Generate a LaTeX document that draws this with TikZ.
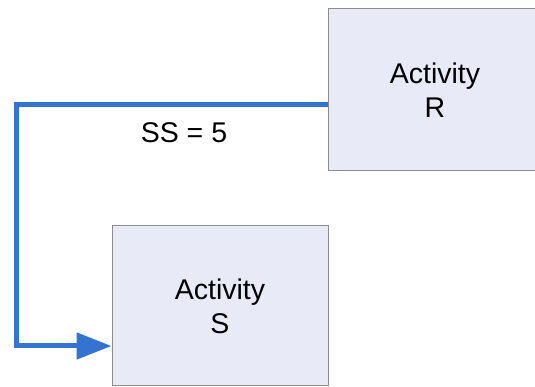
\documentclass[tikz,border=0pt]{standalone}
\usepackage{fontspec}
\setmainfont{Liberation Sans}
\usetikzlibrary{arrows.meta}
\usetikzlibrary{positioning}

\begin{document}
\begin{tikzpicture}
	[
	x=1pt, y=1pt,
	> = {Triangle[length=35pt,width=26pt]},
	activity/.style = {draw=black!45, line width=1pt, fill={rgb,255:red,232;green,235;blue,247}, align=center, font=\fontsize{28.5}{34}\selectfont, inner sep=0pt},
	link/.style = {draw={rgb,255:red,52;green,116;blue,208}, line width=5pt}
	]
	\useasboundingbox (0,0) rectangle (535,387);
	\clip (0,0) rectangle (535,387);
	\node[activity, minimum width=214pt, minimum height=162pt] (R) at (435,297) {Activity\\R};
	\node[activity, minimum width=216pt, minimum height=160pt] (S) at (220,81) {Activity\\S};
	\coordinate (bend) at (16,41);
	\draw[link, ->] ([yshift=-15pt]R.west) -| (bend) -- ([yshift=-40pt]S.west);
	\node[font=\fontsize{28.5}{34}\selectfont] (lag) at (184,254) {SS = 5};
\end{tikzpicture}
\end{document}
